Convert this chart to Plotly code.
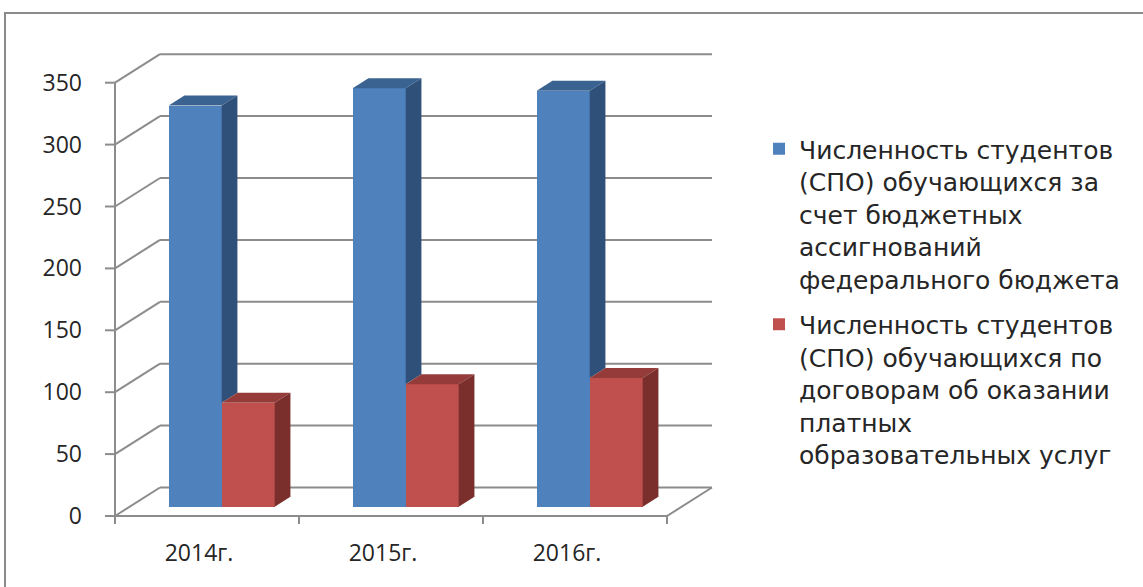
import plotly.graph_objects as go

# ---------------- data ----------------
categories = ["2014г.", "2015г.", "2016г."]
budget_students = [324, 338, 336]      # blue series
paid_students = [84, 99, 104]          # red series
series_names = [
    "Численность студентов<br>(СПО) обучающихся за<br>счет бюджетных<br>ассигнований<br>федерального бюджета",
    "Численность студентов<br>(СПО) обучающихся по<br>договорам об оказании<br>платных<br>образовательных услуг",
]
y_ticks = [0, 50, 100, 150, 200, 250, 300, 350]

# ---------------- geometry (pseudo-3D projection) ----------------
W_PX, H_PX = 1143, 587
PX_X = 184.0       # pixels per category unit
PX_Y = 1.238       # pixels per value unit
ORIG = (115, 516)  # pixel position of front-left floor corner
PLOT_L, PLOT_R, PLOT_T, PLOT_B = 100, 722, 44, 526

xr = [(PLOT_L - ORIG[0]) / PX_X, (PLOT_R - ORIG[0]) / PX_X]
yr = [(ORIG[1] - PLOT_B) / PX_Y, (ORIG[1] - PLOT_T) / PX_Y]

DX = 45 / PX_X           # floor depth in x units
DY = 28.5 / PX_Y         # floor depth in y units
FRONT_F = 0.326          # bar front plane as fraction of floor depth
DEPTH_F = 0.35           # bar depth as fraction of floor depth
SX, SY = FRONT_F * DX, FRONT_F * DY
DDX, DDY = DEPTH_F * DX, DEPTH_F * DY
BW = 53 / PX_X           # bar width
LABEL_SHIFT = 8 / PX_X   # category labels sit slightly left of centre
NCAT = len(categories)
YMAX = y_ticks[-1]

GRID = "#8c8c8c"
BLUE_F, BLUE_T, BLUE_S = "#4f81bd", "#3b6391", "#2f5079"
RED_F, RED_T, RED_S = "#c0504d", "#953b39", "#7b2f2d"
FONT = "Open Sans"
LEG_FONT = "DejaVu Sans"

fig = go.Figure()

# front faces as real bars
blue_x = [i + 0.5 + SX - BW / 2 for i in range(NCAT)]
red_x = [i + 0.5 + SX + BW / 2 for i in range(NCAT)]
fig.add_trace(go.Bar(x=blue_x, y=budget_students, base=[SY] * NCAT, width=BW,
                     marker=dict(color=BLUE_F, line=dict(width=0)),
                     name=series_names[0], legendgroup="g1", showlegend=True))
fig.add_trace(go.Bar(x=red_x, y=paid_students, base=[SY] * NCAT, width=BW,
                     marker=dict(color=RED_F, line=dict(width=0)),
                     name=series_names[1], legendgroup="g2", showlegend=True))


def poly(pts, color):
    xs = [p[0] for p in pts] + [pts[0][0]]
    ys = [p[1] for p in pts] + [pts[0][1]]
    fig.add_trace(go.Scatter(x=xs, y=ys, mode="lines", fill="toself",
                             fillcolor=color, line=dict(width=0, color=color),
                             hoverinfo="skip", showlegend=False))


for i in range(NCAT):
    vb, vr = budget_students[i], paid_students[i]
    x0 = i + 0.5 + SX - BW
    x1 = i + 0.5 + SX
    x2 = x1 + BW
    # blue top
    poly([(x0, SY + vb), (x1, SY + vb), (x1 + DDX, SY + vb + DDY), (x0 + DDX, SY + vb + DDY)], BLUE_T)
    # blue side (visible part above red bar)
    poly([(x1, SY + vr), (x1 + DDX, SY + vr + DDY), (x1 + DDX, SY + vb + DDY), (x1, SY + vb)], BLUE_S)
    # red top
    poly([(x1, SY + vr), (x2, SY + vr), (x2 + DDX, SY + vr + DDY), (x1 + DDX, SY + vr + DDY)], RED_T)
    # red side
    poly([(x2, SY), (x2 + DDX, SY + DDY), (x2 + DDX, SY + vr + DDY), (x2, SY + vr)], RED_S)

# back wall gridlines (below bars)
shapes = []
for v in y_ticks:
    shapes.append(dict(type="line", xref="x", yref="y", x0=DX, x1=NCAT + DX,
                       y0=v + DY, y1=v + DY, line=dict(color=GRID, width=2),
                       layer="below"))

# axis frame lines: left wall diagonals, left axis, front tick marks, floor, x ticks
lx, ly = [], []
for v in y_ticks:
    lx += [0, DX, None]
    ly += [v, v + DY, None]
    lx += [-10 / PX_X, 0, None]
    ly += [v, v, None]
lx += [0, 0, None]
ly += [0, YMAX, None]
lx += [0, NCAT, NCAT + DX, None]
ly += [0, 0, DY, None]
for k in range(NCAT + 1):
    lx += [k, k, None]
    ly += [0, -8 / PX_Y, None]
fig.add_trace(go.Scatter(x=lx, y=ly, mode="lines", line=dict(color=GRID, width=2),
                         hoverinfo="skip", showlegend=False, cliponaxis=False))


# outer chart frame
def px2paper_x(p):
    return (p - PLOT_L) / (PLOT_R - PLOT_L)


def px2paper_y(p):
    return (PLOT_B - p) / (PLOT_B - PLOT_T)


shapes.append(dict(type="rect", xref="paper", yref="paper",
                   x0=px2paper_x(5), x1=px2paper_x(1160),
                   y0=px2paper_y(600), y1=px2paper_y(13),
                   line=dict(color="#8a8a8a", width=2), fillcolor="rgba(0,0,0,0)",
                   layer="above"))

fig.update_layout(
    width=W_PX, height=H_PX,
    margin=dict(l=PLOT_L, r=W_PX - PLOT_R, t=PLOT_T, b=H_PX - PLOT_B, pad=0),
    paper_bgcolor="white", plot_bgcolor="white",
    barmode="overlay", bargap=0,
    shapes=shapes,
    font=dict(family=FONT, size=23, color="#262626"),
    xaxis=dict(range=xr, tickvals=[i + 0.5 - LABEL_SHIFT for i in range(NCAT)],
               ticktext=categories,
               showgrid=False, zeroline=False, showline=False, ticks="",
               ticklabelstandoff=11, tickfont=dict(size=23)),
    yaxis=dict(range=yr, tickvals=y_ticks, ticktext=[str(v) for v in y_ticks],
               showgrid=False, zeroline=False, showline=False, ticks="",
               ticklabelstandoff=17, tickfont=dict(size=23)),
    legend=dict(x=px2paper_x(759), xanchor="left", y=px2paper_y(126), yanchor="top",
                valign="top", tracegroupgap=10, bgcolor="rgba(0,0,0,0)",
                font=dict(family=LEG_FONT, size=25, color="#262626")),
    showlegend=True,
)

fig.write_html("out.html", config={"displayModeBar": False},
               post_script="document.body.style.margin='0';")
